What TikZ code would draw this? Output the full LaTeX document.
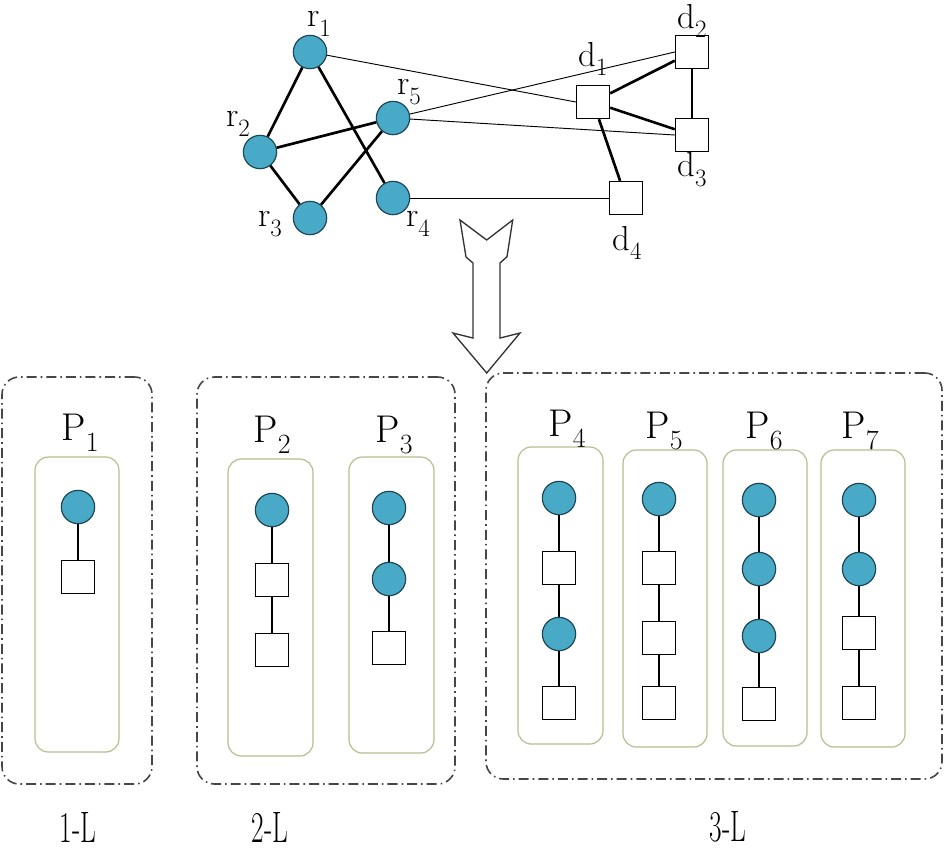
\documentclass[tikz,border=0pt]{standalone}
\usepackage{fontspec}
\usepackage{graphicx}
\definecolor{circfill}{RGB}{72,170,198}
\definecolor{circline}{RGB}{30,70,85}
\definecolor{boxline}{RGB}{185,188,145}
\definecolor{grpline}{RGB}{70,70,70}
\newcommand{\sublbl}[3]{\fontsize{#3}{#3}\selectfont #1\raisebox{-0.28em}{\fontsize{0.72\dimexpr #3pt\relax}{10}\selectfont #2}}
\newcommand{\mkbox}[6]{\node[#6, minimum width={(#4-#2)*0.75pt}, minimum height={(#5-#3)*0.75pt}] (#1) at ({(#2+#4)/2},{(#3+#5)/2}) {};}
\newcommand{\levellbl}[1]{\scalebox{0.62}[1]{\fontsize{33}{33}\selectfont #1}}
\tikzset{
  rnode/.style={circle, draw=circline, fill=circfill, line width=0.9pt, minimum size=25pt, inner sep=0pt},
  dnode/.style={rectangle, draw=black, fill=white, line width=0.8pt, minimum size=25pt, inner sep=0pt},
  thickedge/.style={line width=2pt},
  thinedge/.style={line width=0.7pt},
  chainedge/.style={line width=0.8pt},
  grpbox/.style={draw=grpline, line width=1.2pt, rounded corners=13pt, dash pattern=on 7.5pt off 3pt on 1.2pt off 3pt},
  pathbox/.style={draw=boxline, line width=0.9pt, rounded corners=10pt},
  lbl/.style={inner sep=0pt},
}
\begin{document}
\begin{tikzpicture}[x=0.75pt,y=-0.75pt]
\useasboundingbox (0,0) rectangle (944,851);
% top graph
\node[rnode] (r1) at (310,52) {};
\node[rnode] (r2) at (260,152) {};
\node[rnode] (r3) at (310,218) {};
\node[rnode] (r4) at (393,198) {};
\node[rnode] (r5) at (393,118) {};
\node[dnode] (d1) at (593,102) {};
\node[dnode] (d2) at (692,52) {};
\node[dnode] (d3) at (692,135) {};
\node[dnode] (d4) at (626,198) {};
\draw[thickedge] (r1) -- (r2);
\draw[thickedge] (r1) -- (r4);
\draw[thickedge] (r2) -- (r5);
\draw[thickedge] (r2) -- (r3);
\draw[thickedge] (r3) -- (r5);
\draw[thickedge] (d1) -- (d2);
\draw[thickedge] (d1) -- (d3);
\draw[thickedge] (d2) -- (d3);
\draw[thickedge] (d1) -- (d4);
\draw[thinedge] (r1) -- (d1.west);
\draw[thinedge] (r5) -- (d2.west);
\draw[thinedge] (r5) -- (d3.west);
\draw[thinedge] (r4) -- (d4.west);
\node[lbl] (lr1) at (319,24) {\sublbl{r}{1}{26}};
\node[lbl] (lr2) at (238,124) {\sublbl{r}{2}{26}};
\node[lbl] (lr3) at (270,224) {\sublbl{r}{3}{26}};
\node[lbl] (lr4) at (418,224) {\sublbl{r}{4}{26}};
\node[lbl] (lr5) at (409,92) {\sublbl{r}{5}{26}};
\node[lbl] (ld1) at (593,59) {\sublbl{d}{1}{26}};
\node[lbl] (ld2) at (692,21) {\sublbl{d}{2}{26}};
\node[lbl] (ld3) at (692,170) {\sublbl{d}{3}{26}};
\node[lbl] (ld4) at (627,243) {\sublbl{d}{4}{26}};
% big hollow arrow
\draw[line width=1pt, draw=black!80, line join=miter] (460,220) -- (486.7,240) -- (512.7,220) -- (507,256.7) -- (500,263) -- (500,338) -- (520,333) -- (486.7,373) -- (453,333) -- (473,338) -- (473,263) -- (466,257) -- cycle;
% group boxes
\mkbox{g1}{2}{377}{152}{784}{grpbox}
\mkbox{g2}{197}{377}{455}{784}{grpbox}
\mkbox{g3}{486}{373}{942}{779}{grpbox}
% path boxes
\mkbox{b1}{35}{457}{119}{752}{pathbox}
\mkbox{b2}{228}{459}{313}{756}{pathbox}
\mkbox{b3}{349}{457}{434}{753}{pathbox}
\mkbox{b4}{518}{447}{603}{744}{pathbox}
\mkbox{b5}{623}{450}{707}{747}{pathbox}
\mkbox{b6}{723}{450}{807}{746}{pathbox}
\mkbox{b7}{821}{450}{905}{747}{pathbox}
% P labels
\node[lbl] (p1) at (80,433) {\sublbl{P}{1}{29}};
\node[lbl] (p2) at (272,435) {\sublbl{P}{2}{29}};
\node[lbl] (p3) at (394,435) {\sublbl{P}{3}{29}};
\node[lbl] (p4) at (567,429) {\sublbl{P}{4}{29}};
\node[lbl] (p5) at (664,431) {\sublbl{P}{5}{29}};
\node[lbl] (p6) at (764,431) {\sublbl{P}{6}{29}};
\node[lbl] (p7) at (860,431) {\sublbl{P}{7}{29}};
% P1
\node[rnode] (a1) at (78,507) {};
\node[dnode] (a2) at (78,577) {};
\draw[chainedge] (a1) -- (a2);
% P2
\node[rnode] (b21) at (272,510) {};
\node[dnode] (b22) at (272,580) {};
\node[dnode] (b23) at (272,650) {};
\draw[chainedge] (b21) -- (b22) -- (b23);
% P3
\node[rnode] (c1) at (389,508) {};
\node[rnode] (c2) at (389,579) {};
\node[dnode] (c3) at (389,648) {};
\draw[chainedge] (c1) -- (c2) -- (c3);
% P4
\node[rnode] (e1) at (559,498) {};
\node[dnode] (e2) at (559,568) {};
\node[rnode] (e3) at (559,634) {};
\node[dnode] (e4) at (559,703) {};
\draw[chainedge] (e1) -- (e2) -- (e3) -- (e4);
% P5
\node[rnode] (f1) at (659,499) {};
\node[dnode] (f2) at (659,568) {};
\node[dnode] (f3) at (659,638) {};
\node[dnode] (f4) at (659,703) {};
\draw[chainedge] (f1) -- (f2) -- (f3) -- (f4);
% P6
\node[rnode] (h1) at (759,500) {};
\node[rnode] (h2) at (759,569) {};
\node[rnode] (h3) at (759,636) {};
\node[dnode] (h4) at (759,704) {};
\draw[chainedge] (h1) -- (h2) -- (h3) -- (h4);
% P7
\node[rnode] (k1) at (859,500) {};
\node[rnode] (k2) at (859,569) {};
\node[dnode] (k3) at (859,633) {};
\node[dnode] (k4) at (859,703) {};
\draw[chainedge] (k1) -- (k2) -- (k3) -- (k4);
% bottom labels
\node[lbl] (L1) at (78,827) {\levellbl{1-L}};
\node[lbl] (L2) at (270,827) {\levellbl{2-L}};
\node[lbl] (L3) at (728,827) {\levellbl{3-L}};
\end{tikzpicture}
\end{document}
